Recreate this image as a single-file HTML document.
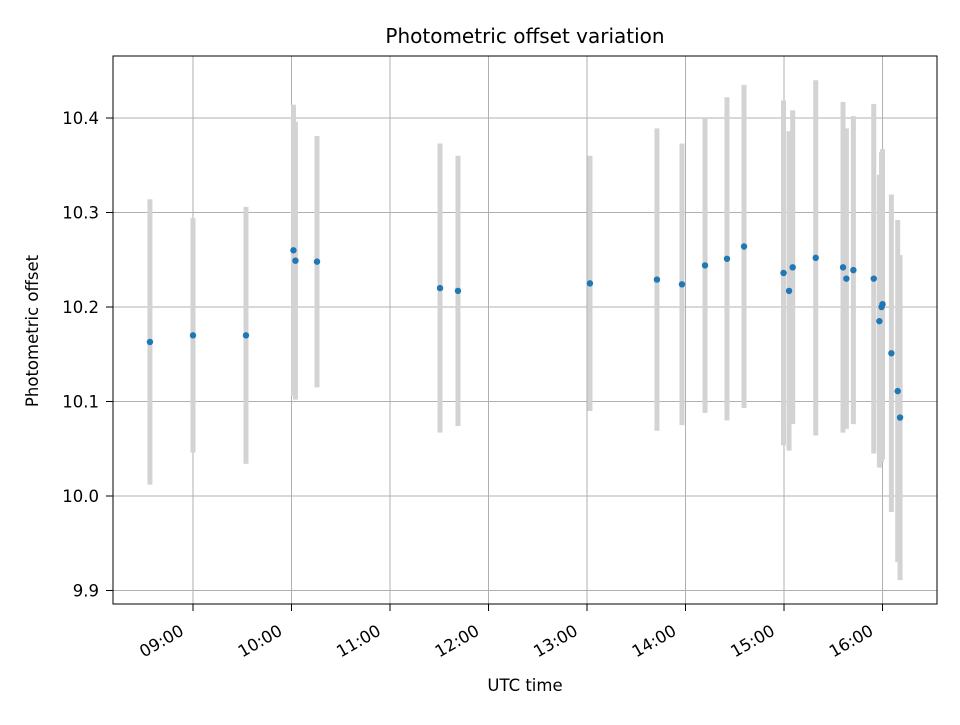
<!DOCTYPE html>
<html><head><meta charset="utf-8"><style>
body{margin:0;background:#fff;}
svg text{font-family:"DejaVu Sans","Liberation Sans",sans-serif;fill:#000;}
</style></head><body>
<svg id="chart" width="960" height="720" xmlns="http://www.w3.org/2000/svg">
<rect width="960" height="720" fill="#fff"/>
<g id="grid"></g><g id="bars"></g><g id="pts"></g><g id="axes"></g>
</svg>
<script>
const times=[8.563,9.0,9.538,10.02,10.04,10.259,11.508,11.69,13.03,13.71,13.964,14.198,14.421,14.594,14.995,15.051,15.088,15.322,15.599,15.633,15.704,15.911,15.968,15.99,16.0,16.09,16.154,16.178];
const values=[10.163,10.170,10.170,10.260,10.249,10.248,10.220,10.217,10.225,10.229,10.224,10.244,10.251,10.264,10.236,10.217,10.242,10.252,10.242,10.230,10.239,10.230,10.185,10.200,10.203,10.151,10.111,10.083];
const errors=[0.151,0.124,0.136,0.154,0.147,0.133,0.153,0.143,0.135,0.160,0.149,0.156,0.171,0.171,0.1825,0.169,0.166,0.188,0.175,0.159,0.163,0.185,0.155,0.164,0.164,0.168,0.181,0.172];
const xTicks=[9,10,11,12,13,14,15,16];
const xTickLabels=["09:00","10:00","11:00","12:00","13:00","14:00","15:00","16:00"];
const yTicks=[9.9,10.0,10.1,10.2,10.3,10.4];
const yTickLabels=["9.9","10.0","10.1","10.2","10.3","10.4"];
const L=113,R=937,T=56,B=604,x0=8.188,x1=16.553,y0=9.8857,y1=10.4656;
const X=t=>L+(t-x0)/(x1-x0)*(R-L);
const Y=v=>B-(v-y0)/(y1-y0)*(B-T);
const NS="http://www.w3.org/2000/svg";
function mk(parent,tag,attrs){const e=document.createElementNS(NS,tag);for(const k in attrs)e.setAttribute(k,attrs[k]);document.getElementById(parent).appendChild(e);return e;}
xTicks.forEach((t,i)=>{
  const g=mk('grid','line',{x1:X(t),x2:X(t),y1:T,y2:B,stroke:'#b0b0b0','stroke-width':1});
  
  
  mk('axes','line',{x1:X(t),x2:X(t),y1:B,y2:B+7,stroke:'#000'});
  const bx=X(t)-8, by=B+30;
  const tx=mk('axes','text',{x:bx,y:by,'font-size':16.5,'text-anchor':'end',transform:`rotate(-30 ${bx} ${by})`});
  tx.textContent=xTickLabels[i];
  
  
});
yTicks.forEach((v,i)=>{
  const g=mk('grid','line',{x1:L,x2:R,y1:Y(v),y2:Y(v),stroke:'#b0b0b0','stroke-width':1});
  
  
  mk('axes','line',{x1:L-7,x2:L,y1:Y(v),y2:Y(v),stroke:'#000'});
  const tx=mk('axes','text',{x:L-14,y:Y(v)+6,'font-size':16.5,'text-anchor':'end'});
  tx.textContent=yTickLabels[i];
  
  
});
times.forEach((t,i)=>{
  const b=mk('bars','line',{x1:X(t),x2:X(t),y1:Y(values[i]+errors[i]),y2:Y(values[i]-errors[i]),stroke:'#d3d3d3','stroke-width':5});
  
  
});
times.forEach((t,i)=>{
  const c=mk('pts','circle',{cx:X(t),cy:Y(values[i]),r:3.2,fill:'#1f77b4'});
  
  
});
const fr=mk('axes','rect',{x:L,y:T,width:R-L,height:B-T,fill:'none',stroke:'#000','stroke-width':1});


const ti=mk('axes','text',{x:(L+R)/2,y:43,'font-size':20,'text-anchor':'middle'});
ti.textContent='Photometric offset variation';


const xl=mk('axes','text',{x:(L+R)/2,y:691,'font-size':16.5,'text-anchor':'middle'});
xl.textContent='UTC time';


const yl=mk('axes','text',{x:38,y:(T+B)/2+1,'font-size':16.5,'text-anchor':'middle',transform:`rotate(-90 38 ${(T+B)/2+1})`});
yl.textContent='Photometric offset';


</script>
</body></html>
